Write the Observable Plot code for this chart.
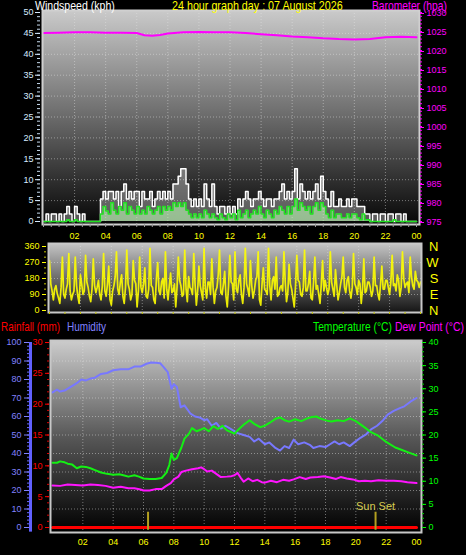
<!DOCTYPE html>
<html><head><meta charset="utf-8">
<script src="https://cdn.jsdelivr.net/npm/d3@7"></script>
<script src="https://cdn.jsdelivr.net/npm/@observablehq/plot@0.6"></script>
<style>
html,body{margin:0;padding:0;background:#000;}
#wrap{position:relative;width:466px;height:555px;overflow:hidden;background:#000;}
#wrap svg{position:absolute;left:0;}
</style></head><body><div id="wrap"></div>
<script>
// ---------- DATA ----------
// wind (kph), 10-minute samples from 00:00 to 24:00
const windGust = [
0,1.8,0,1.8,1.8,0,
1.8,0,1.8,3.6,1.8,0,
3.6,1.8,0,1.8,0,0,
0,0,0,0,5.4,7.2,
5.4,7.2,7.2,5.4,7.2,3.6,
7.2,9,5.4,7.2,5.4,7.2,
7.2,3.6,7.2,5.4,5.4,7.2,
3.6,5.4,7.2,5.4,7.2,5.4,
7.2,5.4,9,9,10.8,12.6,
12.6,9,5.4,3.6,5.4,3.6,
5.4,3.6,9,5.4,3.6,9,
3.6,1.8,3.6,3.6,1.8,3.6,
1.8,3.6,1.8,5.4,3.6,5.4,
7.2,5.4,3.6,5.4,5.4,7.2,
5.4,3.6,5.4,5.4,3.6,5.4,
5.4,7.2,9,5.4,7.2,5.4,
7.2,12.6,5.4,9,7.2,5.4,
7.2,5.4,7.2,9,5.4,10.8,
7.2,5.4,3.6,7.2,3.6,3.6,
5.4,3.6,3.6,5.4,3.6,5.4,
5.4,3.6,3.6,3.6,1.8,1.8,
0,1.8,1.8,0,1.8,1.8,
0,1.8,1.8,0,1.8,1.8,
0,1.8,0,0,0,0,0];
const windAvg = [
0,0,0,0,0,0,
0,0,0,0.4,0,0,
0.4,0,0,0,0,0,
0,0,0,0,1.8,3.6,
2.5,1.8,4.5,2.7,1.8,3.6,
2.7,4.5,1.8,3.6,2.7,1.8,
3.6,1.8,2.7,1.8,3.6,2.7,
1.8,2.7,3.6,1.8,3.6,2.7,
3.6,2.7,4.5,3.6,4.5,3.6,
4.5,2.7,1.8,0.9,1.8,0.9,
1.8,0.9,2.7,1.8,0.9,1.8,
0.9,0.4,1.8,0.9,0.4,1.8,
0.9,1.8,0.4,2.7,0.9,1.8,
2.7,0.9,1.8,2.7,1.8,3.6,
1.8,0.9,2.7,1.8,0.9,2.7,
1.8,3.6,2.7,1.8,3.6,1.8,
3.6,5.4,2.7,4.5,3.6,2.7,
3.6,1.8,3.6,4.5,2.7,4.5,
3.6,1.8,0.9,2.7,0.9,1.8,
1.8,0.9,0.9,1.8,0.9,1.8,
1.8,0.9,0.4,1.8,0.4,0.4,
0,0,0,0,0,0,
0,0,0,0.4,0,0,
0,0,0,0,0,0,0];
// barometer (hPa)
const baroHours  = [0,1,2,3,4,5,6,6.5,7,7.5,8,9,10,11,12,13,14,15,16,17,18,19,20,21,22,23,24];
const baroValues = [1024.6,1024.7,1024.8,1024.8,1024.7,1024.7,1024.6,1024.0,1023.9,1024.1,1024.5,1024.8,1024.9,1024.8,1024.8,1024.6,1024.3,1024.0,1023.7,1023.5,1023.2,1023.0,1022.9,1023.0,1023.5,1023.6,1023.5];
// wind direction (degrees), 5-minute samples
const windDir = [
280,150,110,60,120,140,95,70,40,130,300,90,
70,120,150,320,110,60,90,110,300,140,80,40,
200,150,90,110,310,160,130,80,50,120,290,140,
100,130,170,90,60,140,320,110,80,150,250,60,
30,110,140,190,330,120,90,160,200,80,40,130,
340,150,120,60,90,280,170,150,20,110,300,130,
100,150,240,80,70,120,350,140,130,60,40,180,
270,110,90,160,180,70,330,120,60,140,210,100,
110,150,20,130,300,170,140,80,90,340,120,50,
190,130,120,90,320,150,30,110,250,140,100,60,
350,120,70,160,160,90,290,130,40,110,130,200,
340,100,90,150,220,80,20,140,310,160,150,60,
330,120,100,170,200,90,40,130,350,150,120,80,
280,140,70,110,170,190,330,60,30,150,240,120,
110,90,350,140,60,170,190,120,300,80,90,130,
140,110,330,160,50,100,260,150,120,70,20,140,
310,170,160,90,80,130,340,110,110,150,220,70,
60,160,300,120,140,90,40,150,280,110,170,130,
90,120,330,160,120,80,230,140,60,100,150,190,
300,130,100,170,190,110,70,130,320,150,130,90,
170,150,40,120,290,100,110,160,160,130,80,110,
300,140,140,90,60,150,250,120,120,170,170,130,
90,160,310,140,150,110,200,170,80,130,330,180,
130,150,160,100,300,190,140,120,220,170,160,130,
160];
const compassLetters = ["N","W","S","E","N"];
const compassDegrees = [360,270,180,90,0];
// humidity (%)
const humHours  = [0,0.3,0.5,0.8,1.2,1.6,1.9,2.2,2.5,2.8,3.2,3.6,4.0,4.5,5.0,5.4,5.8,6.2,6.5,6.8,7.1,7.3,7.6,7.85,8.0,8.2,8.45,8.7,9.1,9.4,9.7,10.0,10.2,10.5,10.8,11.1,11.4,11.8,12.2,12.6,13.0,13.3,13.6,14.0,14.3,14.7,15.0,15.3,15.6,15.9,16.2,16.6,17.0,17.2,17.6,18.0,18.3,18.6,18.9,19.2,19.6,19.9,20.3,20.7,21.0,21.4,21.8,22.1,22.5,22.9,23.2,23.6,24];
const humValues = [73,74.5,73.5,74,76,78,80,79.5,80.5,81,83,83.5,85,85.5,85.5,87,87,88.5,89.2,89,88.8,87,84,75,77.5,76,65,66,61.5,60,59.5,58,58.5,55,56.5,53.5,55,53,51,50,49,46.5,48,45,46,43,41.6,44,43,47.5,45,46,44.5,43,44,43.5,45,46.5,45,46,44,46,48.5,50.5,53,55,58,61,63,64.5,65.5,68,70];
// temperature (°C)
const tempHours  = [0,0.3,0.5,0.8,1.0,1.3,1.6,1.9,2.2,2.5,2.8,3.2,3.6,4.0,4.4,4.8,5.0,5.4,5.7,6.0,6.4,6.8,7.2,7.5,7.7,7.85,8.0,8.2,8.5,8.7,9.0,9.2,9.5,9.8,10.0,10.3,10.6,10.9,11.2,11.5,11.8,12.0,12.3,12.6,13.0,13.3,13.7,14.0,14.3,14.7,15.0,15.3,15.6,16.0,16.4,16.8,17.1,17.4,17.7,18.1,18.4,18.8,19.2,19.6,20.0,20.3,20.6,21.0,21.5,22.0,22.6,23.0,23.5,24];
const tempValues = [14.0,14.0,14.3,14.1,13.8,13.6,12.8,13.2,13.1,12.8,12.4,11.9,11.6,11.4,11.5,11.2,11.0,11.3,11.0,10.6,10.5,10.5,10.7,11.8,13.5,16.0,14.6,15.0,17.3,19.2,20.3,21.5,20.8,21.2,21.5,20.8,21.9,21.3,22.0,21.0,20.6,20.3,21.3,22.2,23.2,22.4,21.7,22.0,22.6,23.5,23.8,23.2,22.9,23.4,23.0,23.6,23.9,24.0,23.5,23.1,22.9,23.2,23.0,23.6,23.0,22.3,21.6,20.6,19.8,18.5,17.3,16.8,16.2,15.6];
// dew point (°C)
const dewHours  = [0,0.5,1.0,1.5,2.0,2.5,3.0,3.5,4.0,4.5,5.0,5.4,5.8,6.0,6.4,6.8,7.2,7.5,7.8,8.0,8.3,8.5,8.8,9.2,9.6,9.8,10.0,10.2,10.5,10.8,11.1,11.5,11.8,12.0,12.2,12.4,12.6,12.9,13.2,13.5,13.8,14.0,14.4,14.8,15.2,15.6,15.9,16.3,16.7,17.0,17.5,17.9,18.3,18.7,19.0,19.4,19.8,20.2,20.6,21.0,21.5,22.0,22.5,23.0,23.4,24];
const dewValues = [9.1,9.0,9.3,9.2,9.1,9.3,9.2,9.0,8.6,8.8,8.5,8.5,8.2,8.0,8.0,8.3,8.3,9.0,9.6,10.4,11.0,12.0,12.3,12.6,12.8,13.0,12.6,12.1,12.3,11.6,10.9,11.0,11.1,11.3,11.8,10.8,9.9,10.6,10.0,10.3,9.8,9.7,10.1,9.8,10.3,10.1,10.4,10.9,10.5,10.8,10.9,11.1,10.8,10.5,10.9,10.6,10.4,10.0,10.1,10.0,10.2,10.1,10.1,10.0,9.8,9.6];
// rainfall (mm)
const rainHours  = [0,24];
const rainValues = [0,0];
// sun events (hour of day)
const sunHours = [6.3, 21.3];
const sunSetLabel = ["Sun Set"];
const hourTicks = [2,4,6,8,10,12,14,16,18,20,22,24];

// ---------- HELPERS ----------
const FONT = "'Liberation Sans', Arial, sans-serif";
const baseStyle = {background:"transparent", color:"#fff", fontFamily: FONT, fontSize:"9px", overflow:"visible"};
const hourFmt = d => String(d % 24).padStart(2, "0");
const dotted = {stroke:"#e8e8e8", strokeOpacity:0.45, strokeDasharray:"1,2"};
const none = () => "";
function addGrad(svg, id, stops) {
  const g = d3.select(svg).insert("defs", ":first-child").append("linearGradient")
    .attr("id", id).attr("x1", 0).attr("y1", 0).attr("x2", 0).attr("y2", 1);
  stops.forEach(([o, c]) => g.append("stop").attr("offset", o).attr("stop-color", c));
}
const wrap = document.getElementById("wrap");

// ---------- PANEL 1 : wind speed + barometer ----------
const windTimes = windGust.map((_, i) => i * 24 / (windGust.length - 1));
const windRows = windGust.map((g, i) => ({t: windTimes[i], gust: g, avg: windAvg[i]}));
const baroToW = p => (p - 975) * 50 / 55;
const p1 = Plot.plot({
  width: 466, height: 245,
  marginLeft: 42, marginRight: 47, marginTop: 10, marginBottom: 21,
  style: baseStyle,
  x: {domain: [0, 24], range: [43, 416], label: null},
  y: {domain: [0, 50], range: [221, 12], label: null},
  marks: [
    Plot.frame({fill: "url(#g1)"}),
    Plot.ruleY(d3.range(5, 50, 5), dotted),
    Plot.ruleX(d3.range(2, 24, 2), dotted),
    Plot.areaY(windRows, {x: "t", y: "gust", curve: "step-after", fill: "#ffffff", fillOpacity: 0.32}),
    Plot.areaY(windRows, {x: "t", y: "avg", curve: "step-after", fill: "#c0ffb8", fillOpacity: 0.6}),
    Plot.line(windRows, {x: "t", y: "gust", curve: "step-after", stroke: "#ffffff", strokeWidth: 1.5}),
    Plot.line(windRows, {x: "t", y: "avg", curve: "step-after", stroke: "#22e022", strokeWidth: 1.5}),
    Plot.line(baroHours, {x: d => d, y: (d, i) => baroToW(baroValues[i]), stroke: "#ff00ff", strokeWidth: 2}),
    Plot.frame({stroke: "#d0d0d0", strokeWidth: 2}),
    Plot.axisY(d3.range(0, 51, 1), {anchor: "left", dx: -2, tickSize: 3, tickFormat: none, color: "#c8dcf0"}),
    Plot.axisY(d3.range(0, 51, 5), {anchor: "left", dx: -2, tickSize: 5, tickPadding: 2, tickFormat: d => String(d), color: "#d6eaff"}),
    Plot.axisY(d3.range(975, 1031, 1).map(baroToW), {anchor: "right", tickSize: 2, tickFormat: none, color: "#ff00ff"}),
    Plot.axisY(d3.range(975, 1031, 5).map(baroToW), {anchor: "right", tickSize: 4, tickPadding: 3, dy: 1, tickFormat: d => String(Math.round(975 + d * 55 / 50)), color: "#ff00ff"}),
    Plot.axisX(d3.range(0, 24.01, 0.5), {anchor: "bottom", tickSize: 3, tickFormat: none, color: "#a0a0a0"}),
    Plot.axisX(hourTicks, {anchor: "bottom", tickSize: 0, tickPadding: 8, tickFormat: hourFmt, color: "#ffff00"})
  ]
});
addGrad(p1, "g1", [[0, "#cacaca"], [0.5, "#6a6a6a"], [1, "#060606"]]);
p1.style.top = "0px";
wrap.appendChild(p1);

// ---------- PANEL 2 : wind direction ----------
const dirTimes = windDir.map((_, i) => i * 24 / (windDir.length - 1));
const p2 = Plot.plot({
  width: 466, height: 78,
  marginLeft: 48, marginRight: 45, marginTop: 3, marginBottom: 6,
  style: baseStyle,
  x: {domain: [0, 24], range: [49, 420], label: null},
  y: {domain: [0, 360], range: [70, 6], label: null},
  marks: [
    Plot.frame({fill: "url(#g2)"}),
    Plot.ruleY([90, 180, 270], dotted),
    Plot.ruleX(d3.range(2, 24, 2), dotted),
    Plot.line(windDir, {x: (d, i) => dirTimes[i], y: d => d, stroke: "#ffff00", strokeWidth: 1.7, strokeOpacity: 0.9}),
    Plot.frame({stroke: "#c8c8c8", strokeWidth: 2}),
    Plot.axisY(d3.range(0, 361, 30), {anchor: "left", dx: -2, tickSize: 2, tickFormat: none, color: "#c8c800"}),
    Plot.axisY([0, 90, 180, 270, 360], {anchor: "left", dx: -2, tickSize: 4, tickPadding: 3, tickFormat: d => String(d), color: "#ffff00"}),
    Plot.axisX(d3.range(0, 25, 1), {anchor: "bottom", tickSize: 2, tickFormat: none, color: "#c8c800"}),
    Plot.text(compassLetters, {y: compassDegrees, frameAnchor: "right", dx: 17, fill: "#ffff00", fontSize: 13})
  ]
});
addGrad(p2, "g2", [[0, "#c4c4c4"], [1, "#141414"]]);
p2.style.top = "240px";
wrap.appendChild(p2);

// ---------- PANEL 3 : rain, humidity, temperature, dew point ----------
const humToT = h => h * 0.4;
const rainToT = r => r * 40 / 30;
const p3 = Plot.plot({
  width: 466, height: 237,
  marginLeft: 50, marginRight: 45, marginTop: 22, marginBottom: 23,
  style: baseStyle,
  x: {domain: [0, 24], range: [52, 416], label: null},
  y: {domain: [0, 40], range: [209, 24], label: null},
  marks: [
    Plot.frame({fill: "url(#g3)"}),
    Plot.ruleY(d3.range(10, 100, 10).map(humToT), dotted),
    Plot.ruleX(d3.range(2, 24, 2), dotted),
    Plot.line(humHours, {x: d => d, y: (d, i) => humToT(humValues[i]), stroke: "#7878ff", strokeWidth: 2}),
    Plot.line(tempHours, {x: d => d, y: (d, i) => tempValues[i], stroke: "#14f014", strokeWidth: 2}),
    Plot.line(dewHours, {x: d => d, y: (d, i) => dewValues[i], stroke: "#ff14ff", strokeWidth: 2}),
    Plot.line(rainHours, {x: d => d, y: (d, i) => rainToT(rainValues[i]), stroke: "#ff0000", strokeWidth: 3}),
    Plot.ruleX(sunHours, {y1: -0.6, y2: 3.3, stroke: "#b4a020", strokeWidth: 2}),
    Plot.text(sunSetLabel, {x: [sunHours[1]], y: [3.3], dy: -6, fill: "#d8cc50", fontSize: 11}),
    Plot.frame({stroke: "#c8c8c8", strokeWidth: 2}),
    Plot.ruleX([0], {y1: -1, y2: 40, dx: -22, stroke: "#6060ff", strokeWidth: 3}),
    Plot.axisY(d3.range(0, 101, 2).map(humToT), {anchor: "left", dx: -21, tickSize: 2, tickFormat: none, color: "#6a6aff"}),
    Plot.axisY(d3.range(0, 101, 10).map(humToT), {anchor: "left", dx: -21, tickSize: 5, tickPadding: 3, tickFormat: d => String(Math.round(d / 0.4)), color: "#8080ff"}),
    Plot.axisY(d3.range(0, 31, 1).map(rainToT), {anchor: "left", dx: -1, tickSize: 2, tickFormat: none, color: "#e00000"}),
    Plot.axisY(d3.range(0, 31, 5).map(rainToT), {anchor: "left", dx: -1, tickSize: 4, tickPadding: 3, tickFormat: d => String(Math.round(d * 30 / 40)), color: "#ff0000"}),
    Plot.axisY(d3.range(0, 41, 1), {anchor: "right", tickSize: 2, tickFormat: none, color: "#00d000"}),
    Plot.axisY(d3.range(0, 41, 5), {anchor: "right", tickSize: 4, tickPadding: 3, tickFormat: d => String(d), color: "#00ff00"}),
    Plot.axisX(hourTicks, {anchor: "bottom", tickSize: 0, tickPadding: 6, tickFormat: hourFmt, color: "#ffff00"})
  ]
});
addGrad(p3, "g3", [[0, "#cccccc"], [0.5, "#585858"], [1, "#000000"]]);
p3.style.top = "318px";
wrap.appendChild(p3);

// ---------- TITLES ----------
const titleLayout = [
  {t: "Windspeed (kph)", x: 35, y: 9.5, w: 80, c: "#ffffff"},
  {t: "24 hour graph day : 07 August 2026", x: 172, y: 9.5, w: 171, c: "#ffff00"},
  {t: "Barometer (hpa)", x: 372, y: 9.5, w: 75, c: "#ff00ff"},
  {t: "Rainfall (mm)", x: 1, y: 331, w: 59, c: "#ff0000"},
  {t: "Humidity", x: 67, y: 331, w: 39, c: "#8080ff"},
  {t: "Temperature (°C)", x: 313, y: 331, w: 79, c: "#00ff00"},
  {t: "Dew Point (°C)", x: 395, y: 331, w: 69, c: "#ff00ff"}
];
const ov = d3.create("svg").attr("width", 466).attr("height", 555).style("top", "0px").style("pointer-events", "none");
wrap.appendChild(ov.node());
ov.selectAll("text").data(titleLayout).join("text")
  .attr("x", 0).attr("y", 0).attr("fill", d => d.c)
  .attr("font-family", FONT).attr("font-size", 12)
  .text(d => d.t)
  .each(function(d) {
    const natural = this.getComputedTextLength() || d.w;
    d3.select(this).attr("transform", `translate(${d.x},${d.y}) scale(${d.w / natural},1)`);
  });
</script></body></html>
